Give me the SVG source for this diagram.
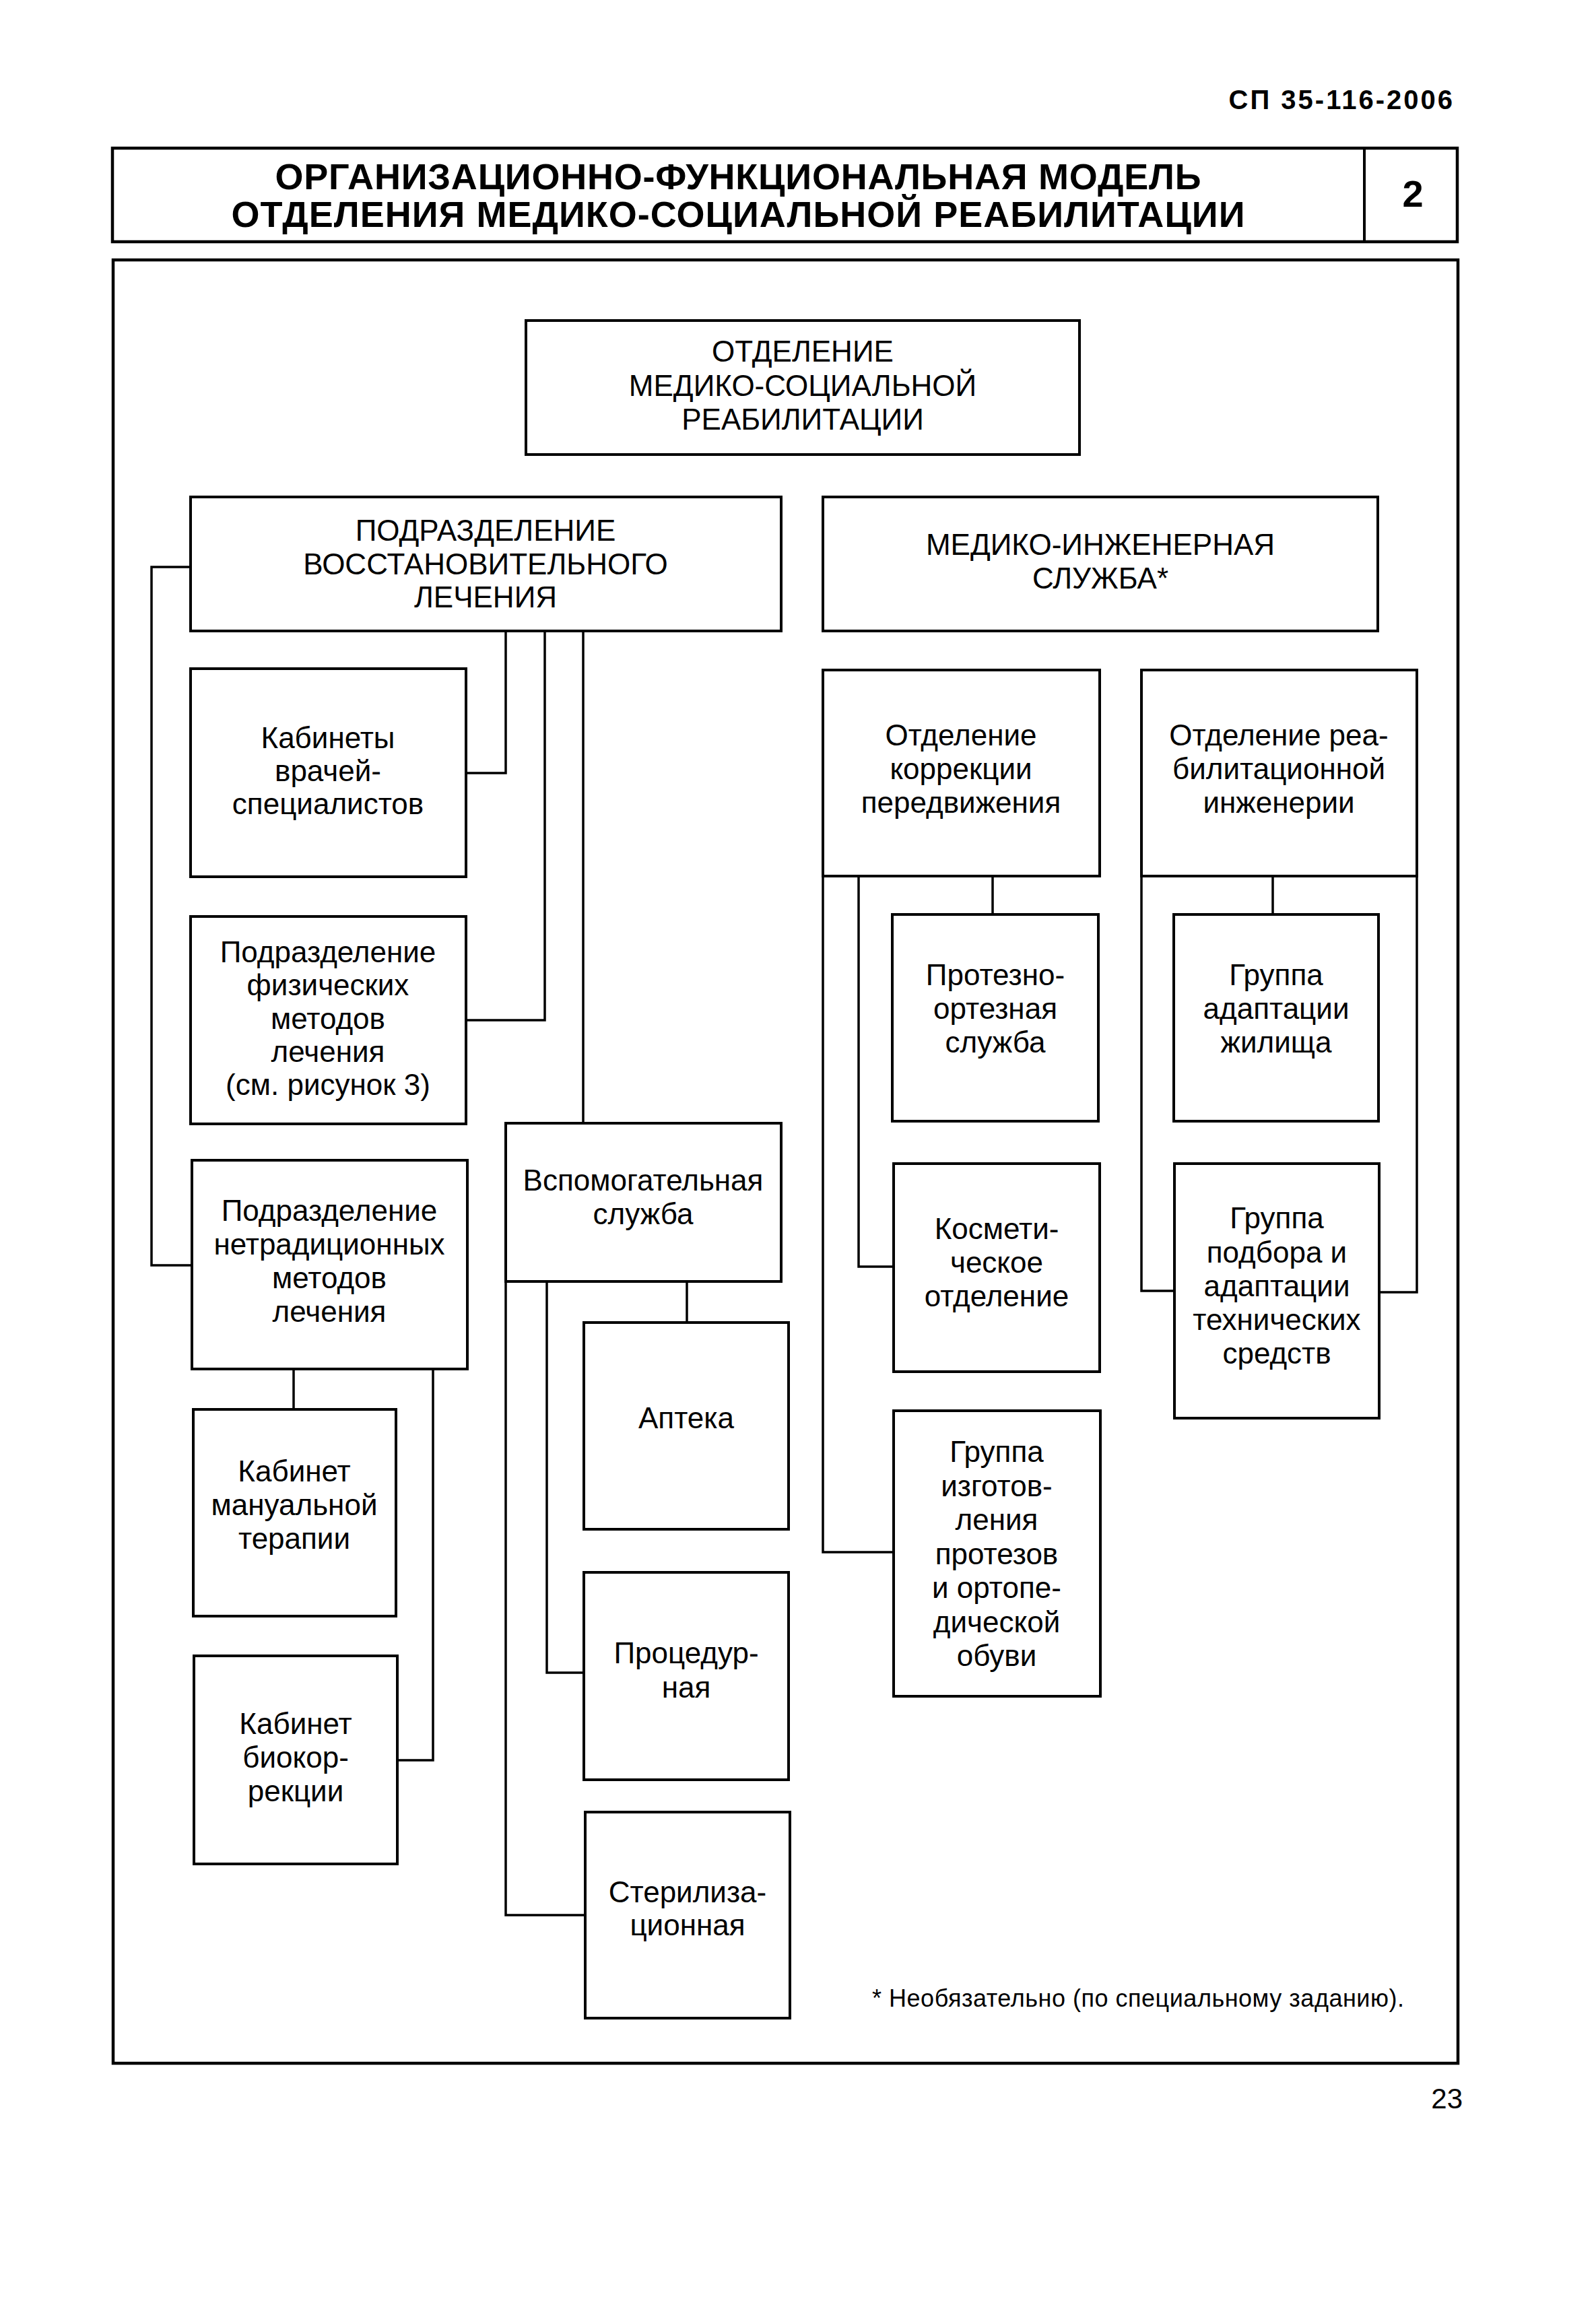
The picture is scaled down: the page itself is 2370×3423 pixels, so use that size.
<svg xmlns="http://www.w3.org/2000/svg" width="2370" height="3423" viewBox="0 0 2370 3423">
<style>
text{font-family:"Liberation Sans",Arial,sans-serif;fill:#000;text-anchor:middle}
.b{fill:#fff;stroke:#000;stroke-width:4}
.c{fill:none;stroke:#000;stroke-width:3.5;stroke-linejoin:miter}
.u{font-size:44px}
.l{font-size:44px}
.t{font-size:54px;font-weight:bold}
</style>
<rect width="2370" height="3423" fill="#fff"/>
<g id="header">
<text x="2160" y="162" style="font-size:40px;font-weight:bold;text-anchor:end;letter-spacing:3px">СП 35-116-2006</text>
<rect x="167" y="220" width="1997" height="139" fill="none" stroke="#000" stroke-width="4.5"/>
<line x1="2026" y1="220" x2="2026" y2="359" stroke="#000" stroke-width="4"/>
<text class="t" x="1096" y="281" textLength="1375" lengthAdjust="spacing">ОРГАНИЗАЦИОННО-ФУНКЦИОНАЛЬНАЯ МОДЕЛЬ</text>
<text class="t" x="1096" y="337" textLength="1505" lengthAdjust="spacing">ОТДЕЛЕНИЯ МЕДИКО-СОЦИАЛЬНОЙ РЕАБИЛИТАЦИИ</text>
<text x="2098" y="307" style="font-size:56px;font-weight:bold">2</text>
</g>
<rect id="frame" x="168" y="386" width="1997" height="2678" fill="none" stroke="#000" stroke-width="4.5"/>
<g id="connectors">
<polyline class="c" points="283,842 225,842 225,1879 285,1879"/>
<polyline class="c" points="751,937 751,1148 692,1148"/>
<polyline class="c" points="809,937 809,1515 692,1515"/>
<line class="c" x1="866" y1="937" x2="866" y2="1668"/>
<line class="c" x1="436" y1="2033" x2="436" y2="2093"/>
<polyline class="c" points="643,2033 643,2614 590,2614"/>
<line class="c" x1="1020" y1="1903" x2="1020" y2="1964"/>
<polyline class="c" points="812,1903 812,2484 867,2484"/>
<polyline class="c" points="751,1903 751,2844 869,2844"/>
<line class="c" x1="1474" y1="1301" x2="1474" y2="1358"/>
<polyline class="c" points="1275,1301 1275,1881 1327,1881"/>
<polyline class="c" points="1222,1301 1222,2305 1327,2305"/>
<line class="c" x1="1890" y1="1301" x2="1890" y2="1358"/>
<polyline class="c" points="1695,1301 1695,1917 1744,1917"/>
<polyline class="c" points="2104,1301 2104,1919 2048,1919"/>
</g>
<g id="n-top"><rect class="b" x="781" y="476" width="822" height="199"/>
<text class="u" x="1192" y="537">ОТДЕЛЕНИЕ</text><text class="u" x="1192" y="588">МЕДИКО-СОЦИАЛЬНОЙ</text><text class="u" x="1192" y="638">РЕАБИЛИТАЦИИ</text></g>
<g id="n-vosst"><rect class="b" x="283" y="738" width="877" height="199"/>
<text class="u" x="721" y="803">ПОДРАЗДЕЛЕНИЕ</text><text class="u" x="721" y="853">ВОССТАНОВИТЕЛЬНОГО</text><text class="u" x="721" y="902">ЛЕЧЕНИЯ</text></g>
<g id="n-mis"><rect class="b" x="1222" y="738" width="824" height="199"/>
<text class="u" x="1634" y="824">МЕДИКО-ИНЖЕНЕРНАЯ</text><text class="u" x="1634" y="874">СЛУЖБА*</text></g>
<g id="n-kab"><rect class="b" x="283" y="993" width="409" height="309"/>
<text class="l" x="487" y="1111">Кабинеты</text><text class="l" x="487" y="1160">врачей-</text><text class="l" x="487" y="1209">специалистов</text></g>
<g id="n-fiz"><rect class="b" x="283" y="1361" width="409" height="308"/>
<text class="l" x="487" y="1429">Подразделение</text><text class="l" x="487" y="1478">физических</text><text class="l" x="487" y="1528">методов</text><text class="l" x="487" y="1577">лечения</text><text class="l" x="487" y="1626">(см. рисунок 3)</text></g>
<g id="n-netr"><rect class="b" x="285" y="1723" width="409" height="310"/>
<text class="l" x="489" y="1813">Подразделение</text><text class="l" x="489" y="1863">нетрадиционных</text><text class="l" x="489" y="1913">методов</text><text class="l" x="489" y="1963">лечения</text></g>
<g id="n-vspom"><rect class="b" x="751" y="1668" width="409" height="235"/>
<text class="l" x="955" y="1768">Вспомогательная</text><text class="l" x="955" y="1818">служба</text></g>
<g id="n-man"><rect class="b" x="287" y="2093" width="301" height="307"/>
<text class="l" x="437" y="2200">Кабинет</text><text class="l" x="437" y="2250">мануальной</text><text class="l" x="437" y="2300">терапии</text></g>
<g id="n-bio"><rect class="b" x="288" y="2459" width="302" height="309"/>
<text class="l" x="439" y="2575">Кабинет</text><text class="l" x="439" y="2625">биокор-</text><text class="l" x="439" y="2675">рекции</text></g>
<g id="n-apt"><rect class="b" x="867" y="1964" width="304" height="307"/>
<text class="l" x="1019" y="2121">Аптека</text></g>
<g id="n-proc"><rect class="b" x="867" y="2335" width="304" height="308"/>
<text class="l" x="1019" y="2470">Процедур-</text><text class="l" x="1019" y="2521">ная</text></g>
<g id="n-ster"><rect class="b" x="869" y="2691" width="304" height="306"/>
<text class="l" x="1021" y="2825">Стерилиза-</text><text class="l" x="1021" y="2874">ционная</text></g>
<g id="n-korr"><rect class="b" x="1222" y="995" width="411" height="306"/>
<text class="l" x="1427" y="1107">Отделение</text><text class="l" x="1427" y="1157">коррекции</text><text class="l" x="1427" y="1207">передвижения</text></g>
<g id="n-ing"><rect class="b" x="1695" y="995" width="409" height="306"/>
<text class="l" x="1899" y="1107">Отделение реа-</text><text class="l" x="1899" y="1157">билитационной</text><text class="l" x="1899" y="1207">инженерии</text></g>
<g id="n-prot"><rect class="b" x="1325" y="1358" width="306" height="307"/>
<text class="l" x="1478" y="1463">Протезно-</text><text class="l" x="1478" y="1513">ортезная</text><text class="l" x="1478" y="1563">служба</text></g>
<g id="n-zhil"><rect class="b" x="1743" y="1358" width="304" height="307"/>
<text class="l" x="1895" y="1463">Группа</text><text class="l" x="1895" y="1513">адаптации</text><text class="l" x="1895" y="1563">жилища</text></g>
<g id="n-kosm"><rect class="b" x="1327" y="1728" width="306" height="309"/>
<text class="l" x="1480" y="1840">Космети-</text><text class="l" x="1480" y="1890">ческое</text><text class="l" x="1480" y="1940">отделение</text></g>
<g id="n-podb"><rect class="b" x="1744" y="1728" width="304" height="378"/>
<text class="l" x="1896" y="1824">Группа</text><text class="l" x="1896" y="1875">подбора и</text><text class="l" x="1896" y="1925">адаптации</text><text class="l" x="1896" y="1975">технических</text><text class="l" x="1896" y="2025">средств</text></g>
<g id="n-izg"><rect class="b" x="1327" y="2095" width="307" height="424"/>
<text class="l" x="1480" y="2171">Группа</text><text class="l" x="1480" y="2222">изготов-</text><text class="l" x="1480" y="2272">ления</text><text class="l" x="1480" y="2323">протезов</text><text class="l" x="1480" y="2373">и ортопе-</text><text class="l" x="1480" y="2424">дической</text><text class="l" x="1480" y="2474">обуви</text></g>
<text id="footnote" x="1690" y="2980" style="font-size:36px" textLength="790" lengthAdjust="spacing">* Необязательно (по специальному заданию).</text>
<text id="page" x="2172" y="3131" style="font-size:42px;text-anchor:end">23</text>
</svg>
